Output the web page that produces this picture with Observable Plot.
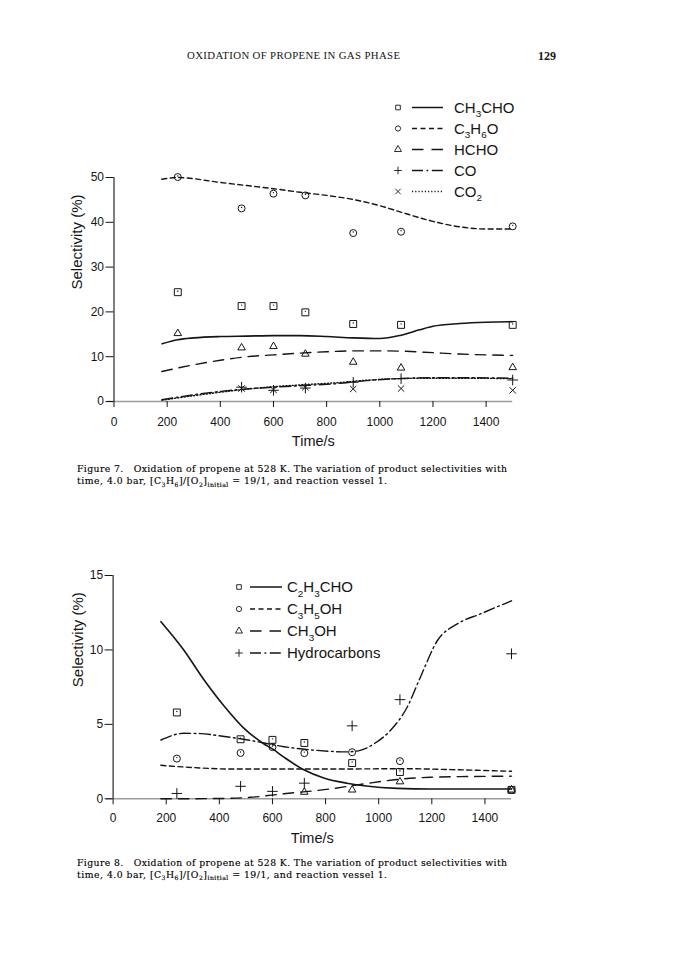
<!DOCTYPE html>
<html><head><meta charset="utf-8">
<script src="https://cdn.jsdelivr.net/npm/d3@7"></script>
<script src="https://cdn.jsdelivr.net/npm/@observablehq/plot@0.6"></script>
<style>
html,body{margin:0;padding:0;background:#fff;}
body{width:675px;height:961px;position:relative;overflow:hidden;}
.abs{position:absolute;left:0;}
svg text{white-space:pre;}
</style></head><body>
<div id="c1" class="abs" style="top:160px"></div>
<div id="c2" class="abs" style="top:560px"></div>
<svg id="page" class="abs" style="top:0" width="675" height="961"></svg>
<script>
// ---------------- Figure 7 data ----------------
const fig7Times = [240, 480, 600, 720, 900, 1080, 1500];
const fig7CH3CHO = [24.4, 21.3, 21.3, 19.9, 17.3, 17.1, 17.1];
const fig7C3H6O = [50.1, 43.1, 46.4, 46.0, 37.6, 37.9, 39.1];
const fig7HCHO = [15.2, 12.0, 12.3, 10.6, 8.8, 7.5, 7.6];
const fig7CO = [null, 3.2, 2.5, 3.0, 4.3, 5.1, 4.8];
const fig7CO2 = [null, 2.9, 2.6, 3.2, 2.8, 2.9, 2.5];

const fit7CH3CHO_t = [181, 240, 300, 400, 500, 600, 700, 800, 900, 1000, 1080, 1150, 1200, 1300, 1400, 1500];
const fit7CH3CHO_v = [12.9, 13.8, 14.2, 14.5, 14.6, 14.7, 14.7, 14.5, 14.2, 14.05, 14.8, 16.0, 16.8, 17.4, 17.7, 17.8];
const fit7C3H6O_t = [180, 240, 400, 500, 600, 700, 800, 900, 1000, 1100, 1200, 1300, 1400, 1500];
const fit7C3H6O_v = [49.6, 50.0, 48.9, 48.2, 47.5, 46.7, 46.0, 45.1, 43.7, 41.9, 40.2, 39.0, 38.5, 38.5];
const fit7HCHO_t = [180, 300, 400, 500, 600, 700, 800, 900, 1000, 1100, 1200, 1300, 1400, 1500];
const fit7HCHO_v = [6.7, 8.2, 9.2, 10.0, 10.4, 10.8, 11.1, 11.3, 11.3, 11.2, 10.9, 10.6, 10.4, 10.3];
const fit7CO_t = [180, 325, 476, 601, 727, 840, 940, 1065, 1200, 1316, 1500];
const fit7CO_v = [0.4, 1.7, 2.7, 3.2, 3.6, 4.0, 4.6, 5.1, 5.3, 5.3, 5.2];
const fit7CO2_t = [180, 325, 476, 601, 727, 840, 940, 1065, 1200, 1316, 1500];
const fit7CO2_v = [0.3, 1.5, 2.6, 3.3, 3.8, 4.2, 4.7, 5.1, 5.2, 5.2, 5.1];

// ---------------- Figure 8 data ----------------
const fig8Times = [240, 480, 600, 720, 900, 1080, 1500];
const fig8C2H3CHO = [5.8, 4.0, 3.96, 3.75, 2.4, 1.8, 0.6];
const fig8C3H5OH = [2.7, 3.08, 3.47, 3.07, 3.13, 2.53, 0.6];
const fig8CH3OH = [null, null, null, 0.45, 0.6, 1.15, 0.6];
const fig8HC = [0.36, 0.84, 0.5, 1.05, 4.9, 6.66, 9.74];

const fit8C2H3CHO_t = [180, 266, 342, 417, 492, 567, 600, 643, 718, 793, 880, 944, 1070, 1200, 1500];
const fit8C2H3CHO_v = [11.9, 10.0, 8.0, 6.25, 4.75, 3.7, 3.35, 2.8, 1.95, 1.4, 1.05, 0.88, 0.7, 0.66, 0.66];
const fit8C3H5OH_t = [180, 300, 450, 800, 1100, 1300, 1500];
const fit8C3H5OH_v = [2.25, 2.1, 2.0, 2.0, 2.02, 1.95, 1.85];
const fit8CH3OH_t = [180, 400, 517, 643, 768, 820, 944, 1070, 1195, 1350, 1500];
const fit8CH3OH_v = [0, 0.02, 0.1, 0.34, 0.56, 0.67, 1.0, 1.3, 1.45, 1.5, 1.52];
const fit8HC_t = [180, 266, 330, 392, 517, 643, 768, 881, 930, 982, 1044, 1107, 1157, 1220, 1296, 1383, 1500];
const fit8HC_v = [3.95, 4.4, 4.38, 4.25, 3.92, 3.5, 3.25, 3.15, 3.25, 3.69, 4.59, 6.15, 8.17, 10.6, 11.75, 12.42, 13.3];

const xTicks = [0, 200, 400, 600, 800, 1000, 1200, 1400];
const y7Ticks = [0, 10, 20, 30, 40, 50];
const y8Ticks = [0, 5, 10, 15];

const legend7 = ["CH_3CHO", "C_3H_6O", "HCHO", "CO", "CO_2"];
const legend8 = ["C_2H_3CHO", "C_3H_5OH", "CH_3OH", "Hydrocarbons"];

const headerText = "OXIDATION OF PROPENE IN GAS PHASE";
const pageNumber = "129";
const caption7 = ["Figure 7.   Oxidation of propene at 528 K. The variation of product selectivities with",
                  "time, 4.0 bar, [C_3H_6]/[O_2]_{initial} = 19/1, and reaction vessel 1."];
const caption8 = ["Figure 8.   Oxidation of propene at 528 K. The variation of product selectivities with",
                  "time, 4.0 bar, [C_3H_6]/[O_2]_{initial} = 19/1, and reaction vessel 1."];

// ---------------- helpers ----------------
const INK = "#151515";
const DASH = {solid: null, short: "5,3.5", long: "10.5,7", dashdot: "11,3.5,1.8,3.5", dot: "1.2,2"};
const pts = (ts, vs) => ts.map((t, i) => ({t, v: vs[i]})).filter(d => d.v != null);

function lineMark(ts, vs, dash, w) {
  return Plot.line(pts(ts, vs), {x: "t", y: "v", curve: "monotone-x", stroke: INK,
    strokeWidth: w || 1.4, strokeDasharray: dash});
}
function dotMark(ts, vs, symbol, r) {
  return Plot.dot(pts(ts, vs), {x: "t", y: "v", symbol, r, stroke: INK, fill: "none", strokeWidth: 1});
}
function innerTicks(ts, vs) {
  return Plot.dot(pts(ts, vs), {x: "t", y: "v", r: 0.7, fill: INK, stroke: "none", dy: -1});
}

const fontSans = "'Liberation Sans', Arial, Helvetica, sans-serif";

function axesMarks(yTicks, yMax, labelDx, tickPad, titleDy) {
  return [
    Plot.ruleY([0], {x1: -25, x2: 1500, stroke: "#9c9c9c", strokeWidth: 1.4}),
    Plot.ruleX([0], {y1: 0, y2: yMax, stroke: INK, strokeWidth: 1.1}),
    Plot.axisY({ticks: yTicks, tickSize: 8, tickPadding: 2, label: null, fontSize: 12, stroke: INK, fill: INK, tickFormat: d => String(d)}),
    Plot.axisX({ticks: xTicks, tickSize: 6, tickPadding: tickPad, label: null, fontSize: 12, stroke: INK, fill: INK, tickFormat: d => String(d)}),
    Plot.text(["Selectivity (%)"], {text: d => d, frameAnchor: "left", rotate: -90, dx: labelDx, fontSize: 15, fill: INK}),
    Plot.text(["Time/s"], {text: d => d, frameAnchor: "bottom", dy: titleDy, fontSize: 14.5, fill: INK})
  ];
}

// ---------------- Figure 7 ----------------
const chart7 = Plot.plot({
  width: 675, height: 300,
  marginLeft: 113.5, marginRight: 162.8, marginTop: 17, marginBottom: 59,
  x: {domain: [0, 1500], axis: null},
  y: {domain: [0, 50], axis: null},
  style: {fontFamily: fontSans, fontSize: "12px", background: "transparent", color: INK},
  marks: [
    ...axesMarks(y7Ticks, 50, -36.5, 10, 44),
    lineMark(fit7CH3CHO_t, fit7CH3CHO_v, DASH.solid, 1.6),
    lineMark(fit7C3H6O_t, fit7C3H6O_v, DASH.short),
    lineMark(fit7HCHO_t, fit7HCHO_v, DASH.long),
    lineMark(fit7CO_t, fit7CO_v, DASH.dashdot),
    lineMark(fit7CO2_t, fit7CO2_v, DASH.dot),
    dotMark(fig7Times, fig7CH3CHO, "square", 3.9),
    innerTicks(fig7Times, fig7CH3CHO),
    dotMark(fig7Times, fig7C3H6O, "circle", 3.5),
    innerTicks(fig7Times, fig7C3H6O),
    dotMark(fig7Times, fig7HCHO, "triangle", 2.8),
    dotMark(fig7Times, fig7CO, "plus", 3.5),
    dotMark(fig7Times, fig7CO2, "times", 3)
  ]
});
document.getElementById("c1").appendChild(chart7);

// ---------------- Figure 8 ----------------
const chart8 = Plot.plot({
  width: 675, height: 300,
  marginLeft: 112.6, marginRight: 164, marginTop: 15, marginBottom: 61.7,
  x: {domain: [0, 1500], axis: null},
  y: {domain: [0, 15], axis: null},
  style: {fontFamily: fontSans, fontSize: "12px", background: "transparent", color: INK},
  marks: [
    ...axesMarks(y8Ticks, 15, -34.6, 8.5, 44.5),
    lineMark(fit8C2H3CHO_t, fit8C2H3CHO_v, DASH.solid, 1.6),
    lineMark(fit8C3H5OH_t, fit8C3H5OH_v, DASH.short),
    lineMark(fit8CH3OH_t, fit8CH3OH_v, DASH.long),
    lineMark(fit8HC_t, fit8HC_v, DASH.dashdot),
    dotMark(fig8Times, fig8C2H3CHO, "square", 3.9),
    innerTicks(fig8Times, fig8C2H3CHO),
    dotMark(fig8Times, fig8C3H5OH, "circle", 3.5),
    innerTicks(fig8Times, fig8C3H5OH),
    dotMark(fig8Times, fig8CH3OH, "triangle", 2.8),
    dotMark(fig8Times, fig8HC, "plus", 3.5)
  ]
});
document.getElementById("c2").appendChild(chart8);

// ---------------- page text & legends ----------------
const page = d3.select("#page");

function richText(sel, str, size) {
  const parts = [];
  let i = 0;
  while (i < str.length) {
    if (str[i] === "_") {
      let s;
      if (str[i + 1] === "{") { const j = str.indexOf("}", i); s = str.slice(i + 2, j); i = j + 1; }
      else { s = str[i + 1]; i += 2; }
      parts.push({s, sub: true});
    } else {
      let j = i; while (j < str.length && str[j] !== "_") j++;
      parts.push({s: str.slice(i, j), sub: false}); i = j;
    }
  }
  let shifted = false;
  const sh = size * 0.3;
  for (const p of parts) {
    const t = sel.append("tspan").text(p.s);
    if (p.sub) { t.attr("font-size", size * 0.66); if (!shifted) { t.attr("dy", sh); shifted = true; } }
    else { t.attr("font-size", size); if (shifted) { t.attr("dy", -sh); shifted = false; } }
  }
}

const symTypes = {square: d3.symbolSquare, circle: d3.symbolCircle, triangle: d3.symbolTriangle, plus: d3.symbolPlus, times: d3.symbolTimes};

function drawLegend(items, syms, dashes, xs, y0, dy, size) {
  items.forEach((lab, k) => {
    const y = y0 + k * dy;
    page.append("path")
      .attr("transform", `translate(${xs[0]},${y})`)
      .attr("d", d3.symbol(symTypes[syms[k]], Math.PI * 2.6 * 2.6)())
      .attr("fill", "none").attr("stroke", INK).attr("stroke-width", 0.9);
    page.append("line").attr("x1", xs[1]).attr("x2", xs[2]).attr("y1", y).attr("y2", y)
      .attr("stroke", INK).attr("stroke-width", 1.5).attr("stroke-dasharray", dashes[k]);
    const t = page.append("text").attr("x", xs[3]).attr("y", y + size * 0.36)
      .attr("font-family", fontSans).attr("fill", INK);
    richText(t, lab, size);
  });
}

drawLegend(legend7, ["square", "circle", "triangle", "plus", "times"],
  [null, DASH.short, "11.5,8", "11,3.5,1.8,3.5", DASH.dot], [398, 412, 443, 454], 107.5, 21, 15);
drawLegend(legend8, ["square", "circle", "triangle", "plus"],
  [null, DASH.short, "11.5,8", "11,3.5,1.8,3.5"], [239, 250, 282, 287], 587, 22, 15);

const serif = "'Liberation Serif', 'Times New Roman', serif";
page.append("text").attr("x", 187).attr("y", 59.3).attr("font-family", serif).attr("font-size", 10.8)
  .attr("textLength", 213).attr("lengthAdjust", "spacing").attr("fill", INK).text(headerText);
page.append("text").attr("x", 556).attr("y", 60).attr("text-anchor", "end").attr("font-family", serif)
  .attr("font-size", 12).attr("font-weight", "bold").attr("fill", INK).text(pageNumber);

const capFont = "'DejaVu Serif', serif";
function caption(lines, x, y0) {
  const lens = [430, 310];
  lines.forEach((ln, k) => {
    const t = page.append("text").attr("x", x).attr("y", y0 + k * 11.8)
      .attr("font-family", capFont).attr("fill", "#000")
      .attr("stroke", "#000").attr("stroke-width", 0.15)
      .attr("textLength", lens[k]).attr("lengthAdjust", "spacing");
    richText(t, ln, 9.3);
  });
}
caption(caption7, 77, 472);
caption(caption8, 77, 865.7);
</script>
</body></html>
